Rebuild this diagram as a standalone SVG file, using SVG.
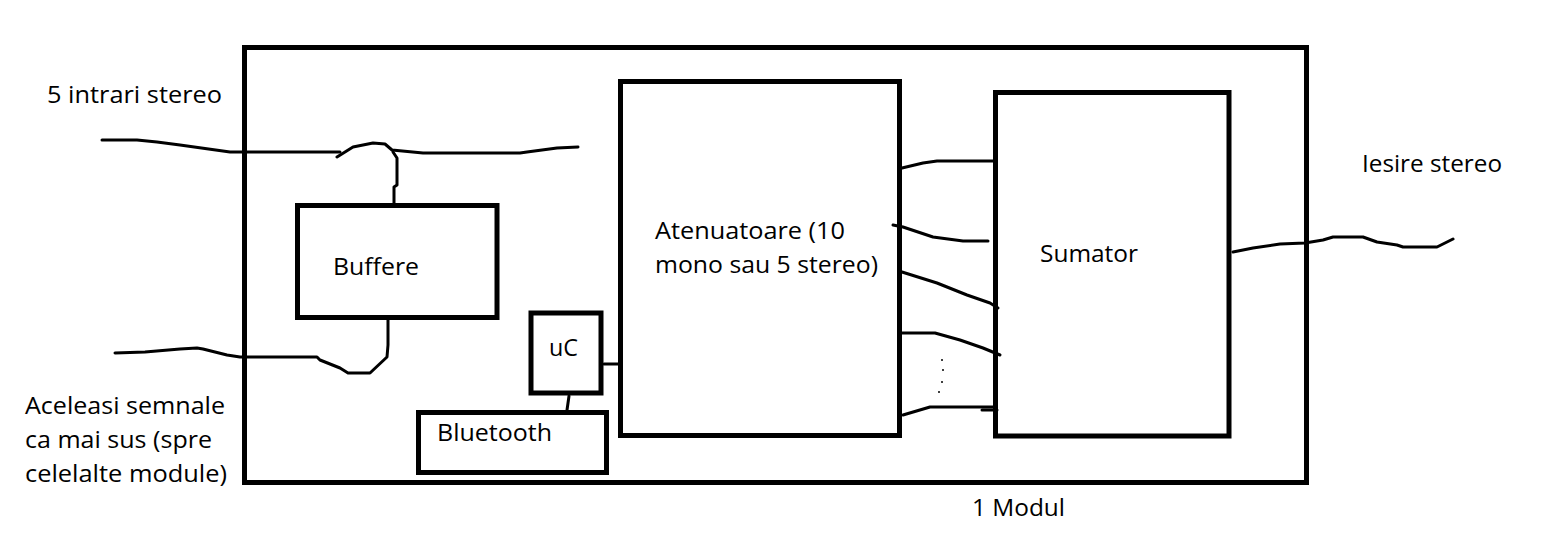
<svg xmlns="http://www.w3.org/2000/svg" width="1559" height="547" viewBox="0 0 1559 547">
<style>
.box{fill:none;stroke:#000;stroke-width:5}
.w{fill:none;stroke:#000;stroke-width:3;stroke-linejoin:round;stroke-linecap:round}
.dot{fill:#000}
text{font-family:"Open Sans","Noto Sans","DejaVu Sans",sans-serif;font-size:24px;fill:#000}
</style>
<rect width="1559" height="547" fill="#fff"/>
<g id="modul">
<rect class="box" x="244.5" y="47.5" width="1062" height="435"/>
<text x="972" y="516" textLength="93" lengthAdjust="spacingAndGlyphs">1 Modul</text>
</g>
<g id="connectors">
<polyline class="w" points="102,140 137,140 157,142 180,145 230,152 243,152 340,152"/>
<polyline class="w" points="337,157 353,147 373,143 385,144 392,150 423,153 520,153 527,152 557,148 578,147"/>
<polyline class="w" points="393,152 397,158 397,185 394,187 394,205"/>
<polyline class="w" points="115,353 145,352 180,349 197,348 203,349 227,355 240,357 317,357 320,360 340,368 348,373 370,373 387,357 388,345 388,320"/>
<polyline class="w" points="604,364 618,364"/>
<polyline class="w" points="569,396 567,410"/>
<polyline class="w" points="902,168 923,163 937,161 993,161"/>
<polyline class="w" points="893,225 903,227 933,237 963,241 988,241"/>
<polyline class="w" points="902,272 937,283 967,295 990,303 998,308"/>
<polyline class="w" points="902,333 935,333 960,340 983,348 1000,355"/>
<polyline class="w" points="903,415 930,407 996,407"/>
<polyline class="w" points="982,410 997,410"/>
<circle class="dot" cx="942" cy="360" r="1"/>
<circle class="dot" cx="943" cy="370" r="1"/>
<circle class="dot" cx="942" cy="382" r="1"/>
<circle class="dot" cx="939" cy="392" r="1"/>
<polyline class="w" points="1233,252 1253,248 1280,244 1305,243 1323,240 1333,237 1363,237 1377,242 1397,245 1403,247 1437,247 1453,239"/>
</g>
<g id="buffere">
<rect class="box" x="297.5" y="205.5" width="199.5" height="112"/>
<text x="333" y="275" textLength="86" lengthAdjust="spacingAndGlyphs">Buffere</text>
</g>
<g id="uc">
<rect class="box" x="531" y="313" width="70" height="80"/>
<text x="549" y="356" textLength="29" lengthAdjust="spacingAndGlyphs">uC</text>
</g>
<g id="bluetooth">
<rect class="box" x="418.5" y="412.5" width="188" height="60"/>
<text x="437" y="441" textLength="115" lengthAdjust="spacingAndGlyphs">Bluetooth</text>
</g>
<g id="atenuatoare">
<rect class="box" x="620.5" y="81.5" width="279" height="354"/>
<text x="655" y="239" textLength="190" lengthAdjust="spacingAndGlyphs">Atenuatoare (10</text>
<text x="655" y="273" textLength="223" lengthAdjust="spacingAndGlyphs">mono sau 5 stereo)</text>
</g>
<g id="sumator">
<rect class="box" x="995.5" y="92.5" width="233.5" height="343.5"/>
<text x="1040" y="262" textLength="98" lengthAdjust="spacingAndGlyphs">Sumator</text>
</g>
<g id="labels">
<text x="47" y="103" textLength="175" lengthAdjust="spacingAndGlyphs">5 intrari stereo</text>
<text x="1362" y="172" textLength="140" lengthAdjust="spacingAndGlyphs">Iesire stereo</text>
<text x="25" y="414" textLength="200" lengthAdjust="spacingAndGlyphs">Aceleasi semnale</text>
<text x="25" y="448" textLength="187" lengthAdjust="spacingAndGlyphs">ca mai sus (spre</text>
<text x="25" y="482" textLength="202" lengthAdjust="spacingAndGlyphs">celelalte module)</text>
</g>
</svg>
